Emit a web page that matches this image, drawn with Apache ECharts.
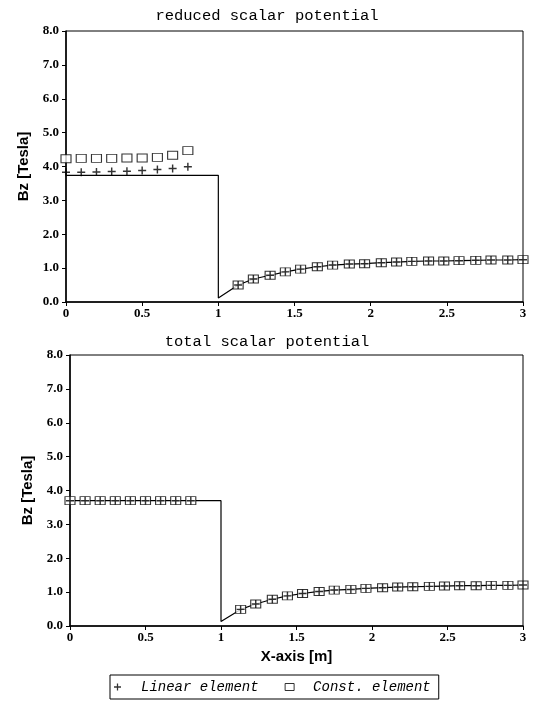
<!DOCTYPE html>
<html>
<head>
<meta charset="utf-8">
<script src="https://cdn.jsdelivr.net/npm/echarts@6/dist/echarts.min.js"></script>
<style>
html, body { margin: 0; padding: 0; background: #fff; }
#chart { width: 534px; height: 706px; }
</style>
</head>
<body>
<div id="chart"></div>
<script>
var titles = ["reduced scalar potential", "total scalar potential"];
var yName = "Bz [Tesla]";
var xName = "X-axis [m]";
var seriesNames = ["Linear element", "Const. element"];

// marker positions along x (m)
var xLeft = [0, 0.1, 0.2, 0.3, 0.4, 0.5, 0.6, 0.7, 0.8];
var xRight = [1.13, 1.23, 1.34, 1.44, 1.54, 1.65, 1.75, 1.86, 1.96, 2.07, 2.17, 2.27, 2.38, 2.48, 2.58, 2.69, 2.79, 2.90, 3.0];

// reduced scalar potential
var topLinearLeft = [3.83, 3.83, 3.84, 3.85, 3.86, 3.88, 3.91, 3.94, 3.99];
var topConstLeft = [4.23, 4.24, 4.24, 4.24, 4.25, 4.25, 4.27, 4.33, 4.47];
var topRight = [0.50, 0.68, 0.79, 0.89, 0.97, 1.04, 1.09, 1.12, 1.13, 1.16, 1.18, 1.20, 1.21, 1.21, 1.22, 1.23, 1.24, 1.24, 1.25];
var topLevel = 3.74;
var topDrop = 0.12;

// total scalar potential
var bottomLeft = [3.70, 3.70, 3.70, 3.70, 3.70, 3.70, 3.70, 3.70, 3.70];
var bottomRight = [0.49, 0.65, 0.79, 0.89, 0.96, 1.02, 1.06, 1.08, 1.11, 1.13, 1.15, 1.16, 1.17, 1.18, 1.19, 1.19, 1.20, 1.20, 1.21];
var bottomLevel = 3.70;
var bottomDrop = 0.13;

var crossSymbol = 'path://M0,4.1H10V5.9H0Z M4.1,0H5.9V10H4.1Z';
var tickFont = { fontFamily: 'Liberation Serif', fontWeight: 'bold', fontSize: 13, color: '#000' };
var nameFont = { fontFamily: 'Liberation Sans', fontWeight: 'bold', fontSize: 15, color: '#000' };

var zip = (xs, ys) => xs.map((x, i) => [x, ys[i]]);

var makeX = (idx, withName) => ({
    type: 'value', gridIndex: idx, min: 0, max: 3, interval: 0.5,
    name: withName ? xName : '', nameLocation: 'middle', nameGap: 23, nameTextStyle: nameFont,
    axisLine: { show: true, lineStyle: { color: '#000', width: 1.5 } },
    axisTick: { show: true, length: 4, lineStyle: { color: '#000' } },
    axisLabel: Object.assign({ margin: 5 }, tickFont),
    splitLine: { show: false }
});
var makeY = (idx) => ({
    type: 'value', gridIndex: idx, min: 0, max: 8, interval: 1,
    name: yName, nameLocation: 'middle', nameGap: 34, nameTextStyle: nameFont,
    axisLine: { show: true, lineStyle: { color: '#000', width: 1.5 } },
    axisTick: { show: true, length: 4, lineStyle: { color: '#000' } },
    axisLabel: Object.assign({ margin: 7, formatter: (v) => v.toFixed(1) }, tickFont),
    splitLine: { show: false }
});

var lineSeries = (idx, data) => ({
    type: 'line', xAxisIndex: idx, yAxisIndex: idx, data: data,
    symbol: 'none', lineStyle: { color: '#000', width: 1.2 }, z: 1, silent: true
});
var boxSeries = (idx, data) => ({
    name: seriesNames[1], type: 'scatter', xAxisIndex: idx, yAxisIndex: idx, data: data,
    symbol: 'rect', symbolSize: [10, 8],
    itemStyle: { color: '#fff', borderColor: '#000', borderWidth: 1 }, z: 2
});
var crossSeries = (idx, data) => ({
    name: seriesNames[0], type: 'scatter', xAxisIndex: idx, yAxisIndex: idx, data: data,
    symbol: crossSymbol, symbolSize: 8,
    itemStyle: { color: '#000' }, z: 3
});

var topLine = [[0, topLevel], [1, topLevel], [1, topDrop]].concat(zip(xRight, topRight));
var bottomLine = zip(xLeft, bottomLeft).concat([[1, bottomLevel], [1, bottomDrop]]).concat(zip(xRight, bottomRight));

var chart = echarts.init(document.getElementById('chart'));
chart.setOption({
    animation: false,
    backgroundColor: '#fff',
    title: [
        { text: titles[0], left: 'center', top: 3, textStyle: { fontFamily: 'Liberation Mono', fontWeight: 'normal', fontSize: 15.5, color: '#000' } },
        { text: titles[1], left: 'center', top: 329, textStyle: { fontFamily: 'Liberation Mono', fontWeight: 'normal', fontSize: 15.5, color: '#000' } }
    ],
    grid: [
        { left: 66, right: 11, top: 31, height: 271, show: true, borderColor: '#000', borderWidth: 1, backgroundColor: 'transparent' },
        { left: 70, right: 11, top: 355, height: 271, show: true, borderColor: '#000', borderWidth: 1, backgroundColor: 'transparent' }
    ],
    xAxis: [makeX(0, false), makeX(1, true)],
    yAxis: [makeY(0), makeY(1)],
    legend: {
        left: 110, top: 675,
        orient: 'horizontal',
        borderColor: '#000', borderWidth: 1,
        padding: [5, 8, 5, 4],
        itemWidth: 9, itemHeight: 7, itemGap: 26,
        itemStyle: { borderWidth: 1 },
        textStyle: { fontFamily: 'Liberation Mono', fontStyle: 'italic', fontSize: 14, color: '#000', padding: [0, 0, 0, 14] },
        data: [
            { name: seriesNames[0], icon: crossSymbol },
            { name: seriesNames[1], icon: 'rect' }
        ]
    },
    series: [
        lineSeries(0, topLine),
        boxSeries(0, zip(xLeft, topConstLeft).concat(zip(xRight, topRight))),
        crossSeries(0, zip(xLeft, topLinearLeft).concat(zip(xRight, topRight))),
        lineSeries(1, bottomLine),
        boxSeries(1, zip(xLeft, bottomLeft).concat(zip(xRight, bottomRight))),
        crossSeries(1, zip(xLeft, bottomLeft).concat(zip(xRight, bottomRight)))
    ]
});
</script>
</body>
</html>
